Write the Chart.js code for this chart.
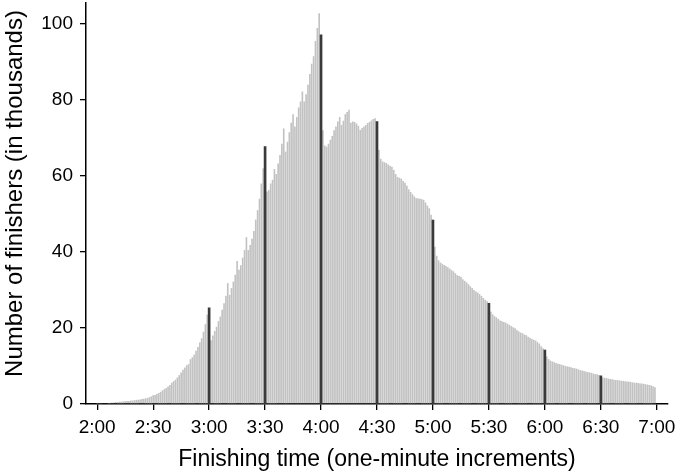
<!DOCTYPE html>
<html>
<head>
<meta charset="utf-8">
<script src="https://cdn.jsdelivr.net/npm/chart.js@4.4.0/dist/chart.umd.min.js"></script>
<style>
  html, body { margin: 0; padding: 0; background: #fff; }
  #wrap { width: 680px; height: 473px; }
</style>
</head>
<body>
<div id="wrap"><canvas id="grafica"></canvas></div>
<script>
// minutes after midnight of the first one-minute bin (2:00)
const primerMinuto = 120;

// finishers per minute, in thousands, 2:00 .. 6:59
const finalistas = [
  0.1, 0.1, 0.1, 0.2, 0.2, 0.2, 0.3, 0.3, 0.3, 0.4,
  0.5, 0.5, 0.6, 0.6, 0.7, 0.7, 0.8, 0.8, 0.9, 0.9,
  1.0, 1.1, 1.1, 1.2, 1.3, 1.4, 1.5, 1.6, 1.8, 2.0,
  2.3, 2.4, 2.6, 2.9, 3.2, 3.6, 3.9, 4.2, 4.6, 5.0,
  5.6, 6.0, 6.4, 7.0, 7.6, 8.3, 9.0, 9.6, 10.2, 10.5,
  11.8, 12.3, 13.0, 14.0, 15.0, 16.2, 17.3, 19.0, 21.0, 23.5,
  // 3:00
  25.3, 16.8, 18.0, 19.2, 20.3, 21.8, 23.0, 24.8, 26.5, 28.5,
  31.8, 28.7, 30.5, 32.2, 34.0, 37.6, 35.3, 36.5, 38.5, 40.5,
  43.9, 40.5, 41.8, 43.5, 45.5, 48.5, 51.0, 54.0, 58.0, 62.0,
  // 3:30
  67.7, 55.9, 56.3, 58.0, 59.0, 61.8, 60.5, 63.3, 65.5, 68.5,
  72.5, 66.4, 69.0, 71.5, 74.0, 76.2, 73.0, 75.5, 78.0, 79.6,
  82.2, 79.6, 81.5, 84.0, 86.8, 89.5, 91.5, 95.5, 98.9, 102.8,
  // 4:00
  97.1, 72.0, 68.0, 67.7, 68.5, 69.5, 70.5, 72.0, 73.0, 74.3,
  75.5, 73.4, 74.5, 76.2, 76.8, 77.4, 74.0, 74.3, 74.2, 73.8,
  73.2, 72.1, 72.6, 73.0, 73.4, 73.9, 74.2, 74.6, 75.0, 75.2,
  // 4:30
  74.3, 66.8, 64.5, 63.8, 63.6, 63.4, 63.0, 62.7, 62.4, 61.6,
  60.5, 59.7, 59.5, 59.3, 58.7, 58.2, 57.4, 56.5, 55.8, 55.2,
  54.6, 54.1, 54.1, 54.0, 53.9, 53.7, 53.0, 52.2, 51.5, 49.8,
  // 5:00
  48.4, 41.4, 39.0, 37.8, 37.2, 36.9, 36.6, 36.3, 36.0, 35.6,
  35.2, 34.9, 34.4, 33.9, 33.7, 33.5, 32.8, 32.4, 32.0, 31.5,
  31.0, 30.5, 30.0, 29.6, 29.3, 28.9, 28.4, 27.9, 27.4, 27.0,
  // 5:30
  26.5, 24.3, 23.6, 23.1, 22.8, 22.4, 22.0, 21.8, 21.6, 21.4,
  21.1, 20.8, 20.5, 20.2, 19.9, 19.5, 19.1, 18.8, 18.6, 18.3,
  18.1, 17.7, 17.4, 17.1, 16.9, 16.7, 16.3, 15.9, 15.2, 14.7,
  // 6:00
  14.2, 12.5, 11.8, 11.4, 11.2, 11.0, 10.8, 10.6, 10.5, 10.3,
  10.2, 10.0, 9.9, 9.8, 9.7, 9.5, 9.4, 9.3, 9.1, 8.9,
  8.8, 8.7, 8.5, 8.4, 8.3, 8.2, 8.0, 7.9, 7.8, 7.6,
  // 6:30
  7.4, 7.0, 6.9, 6.8, 6.7, 6.6, 6.5, 6.4, 6.3, 6.3,
  6.2, 6.1, 6.1, 6.0, 5.9, 5.9, 5.8, 5.7, 5.6, 5.6,
  5.5, 5.4, 5.4, 5.3, 5.2, 5.1, 5.0, 4.9, 4.7, 4.4
];

// round-number minutes drawn as dark bars
const marcas = [180, 210, 240, 270, 300, 330, 360, 390];

const ticksX = [120, 150, 180, 210, 240, 270, 300, 330, 360, 390, 420];
const etiquetasX = ['2:00', '2:30', '3:00', '3:30', '4:00', '4:30', '5:00', '5:30', '6:00', '6:30', '7:00'];
const ticksY = [0, 20, 40, 60, 80, 100];

const puntos = finalistas.map((v, i) => ({ x: primerMinuto + i, y: v }));
const puntosMarca = marcas.map(m => ({ x: m, y: finalistas[m - primerMinuto] }));

const fuente = "'Liberation Sans', Arial, Helvetica, sans-serif";

// the axes' own label padding is switched off, the layout padding decides the frame
function sinRelleno(axis) {
  axis.paddingTop = 0;
  axis.paddingBottom = 0;
  axis.paddingLeft = 0;
  axis.paddingRight = 0;
}

const ctx = document.getElementById('grafica').getContext('2d');
const grafica = new Chart(ctx, {
  type: 'bar',
  data: {
    datasets: [
      {
        data: puntosMarca,
        backgroundColor: '#3a3a3a',
        barThickness: 2,
        grouped: false,
        order: 0
      },
      {
        data: puntos,
        backgroundColor: '#c2c2c2',
        barPercentage: 0.88,
        categoryPercentage: 1,
        grouped: false,
        order: 1
      }
    ]
  },
  options: {
    responsive: true,
    maintainAspectRatio: false,
    animation: false,
    layout: { padding: { top: 3, right: 12, left: 0, bottom: 0 } },
    plugins: {
      legend: { display: false },
      tooltip: { enabled: false }
    },
    scales: {
      x: {
        type: 'linear',
        min: 114,
        max: 426,
        offset: false,
        afterBuildTicks: axis => { axis.ticks = ticksX.map(v => ({ value: v })); },
        afterFit: axis => { axis.height = 69; sinRelleno(axis); },
        ticks: {
          callback: v => etiquetasX[ticksX.indexOf(v)],
          color: '#000',
          font: { family: fuente, size: 19 },
          padding: 6,
          maxRotation: 0,
          autoSkip: false
        },
        grid: { offset: false, drawOnChartArea: false, drawTicks: true, tickLength: 6, color: '#000', lineWidth: 1.3 },
        border: { color: '#000', width: 1.5 },
        title: {
          display: true,
          text: 'Finishing time (one-minute increments)',
          color: '#000',
          font: { family: fuente, size: 23 },
          padding: { top: 0, bottom: 0 }
        }
      },
      y: {
        min: 0,
        max: 105.5,
        afterBuildTicks: axis => { axis.ticks = ticksY.map(v => ({ value: v })); },
        afterFit: axis => { axis.width = 86; sinRelleno(axis); },
        ticks: {
          color: '#000',
          font: { family: fuente, size: 19 },
          padding: 7
        },
        grid: { drawOnChartArea: false, drawTicks: true, tickLength: 6, color: '#000', lineWidth: 1.3 },
        border: { color: '#000', width: 1.5 },
        title: {
          display: true,
          text: '   Number of finishers (in thousands)',
          color: '#000',
          font: { family: fuente, size: 24 },
          padding: { top: 1, bottom: 0 }
        }
      }
    }
  }
});
</script>
</body>
</html>
